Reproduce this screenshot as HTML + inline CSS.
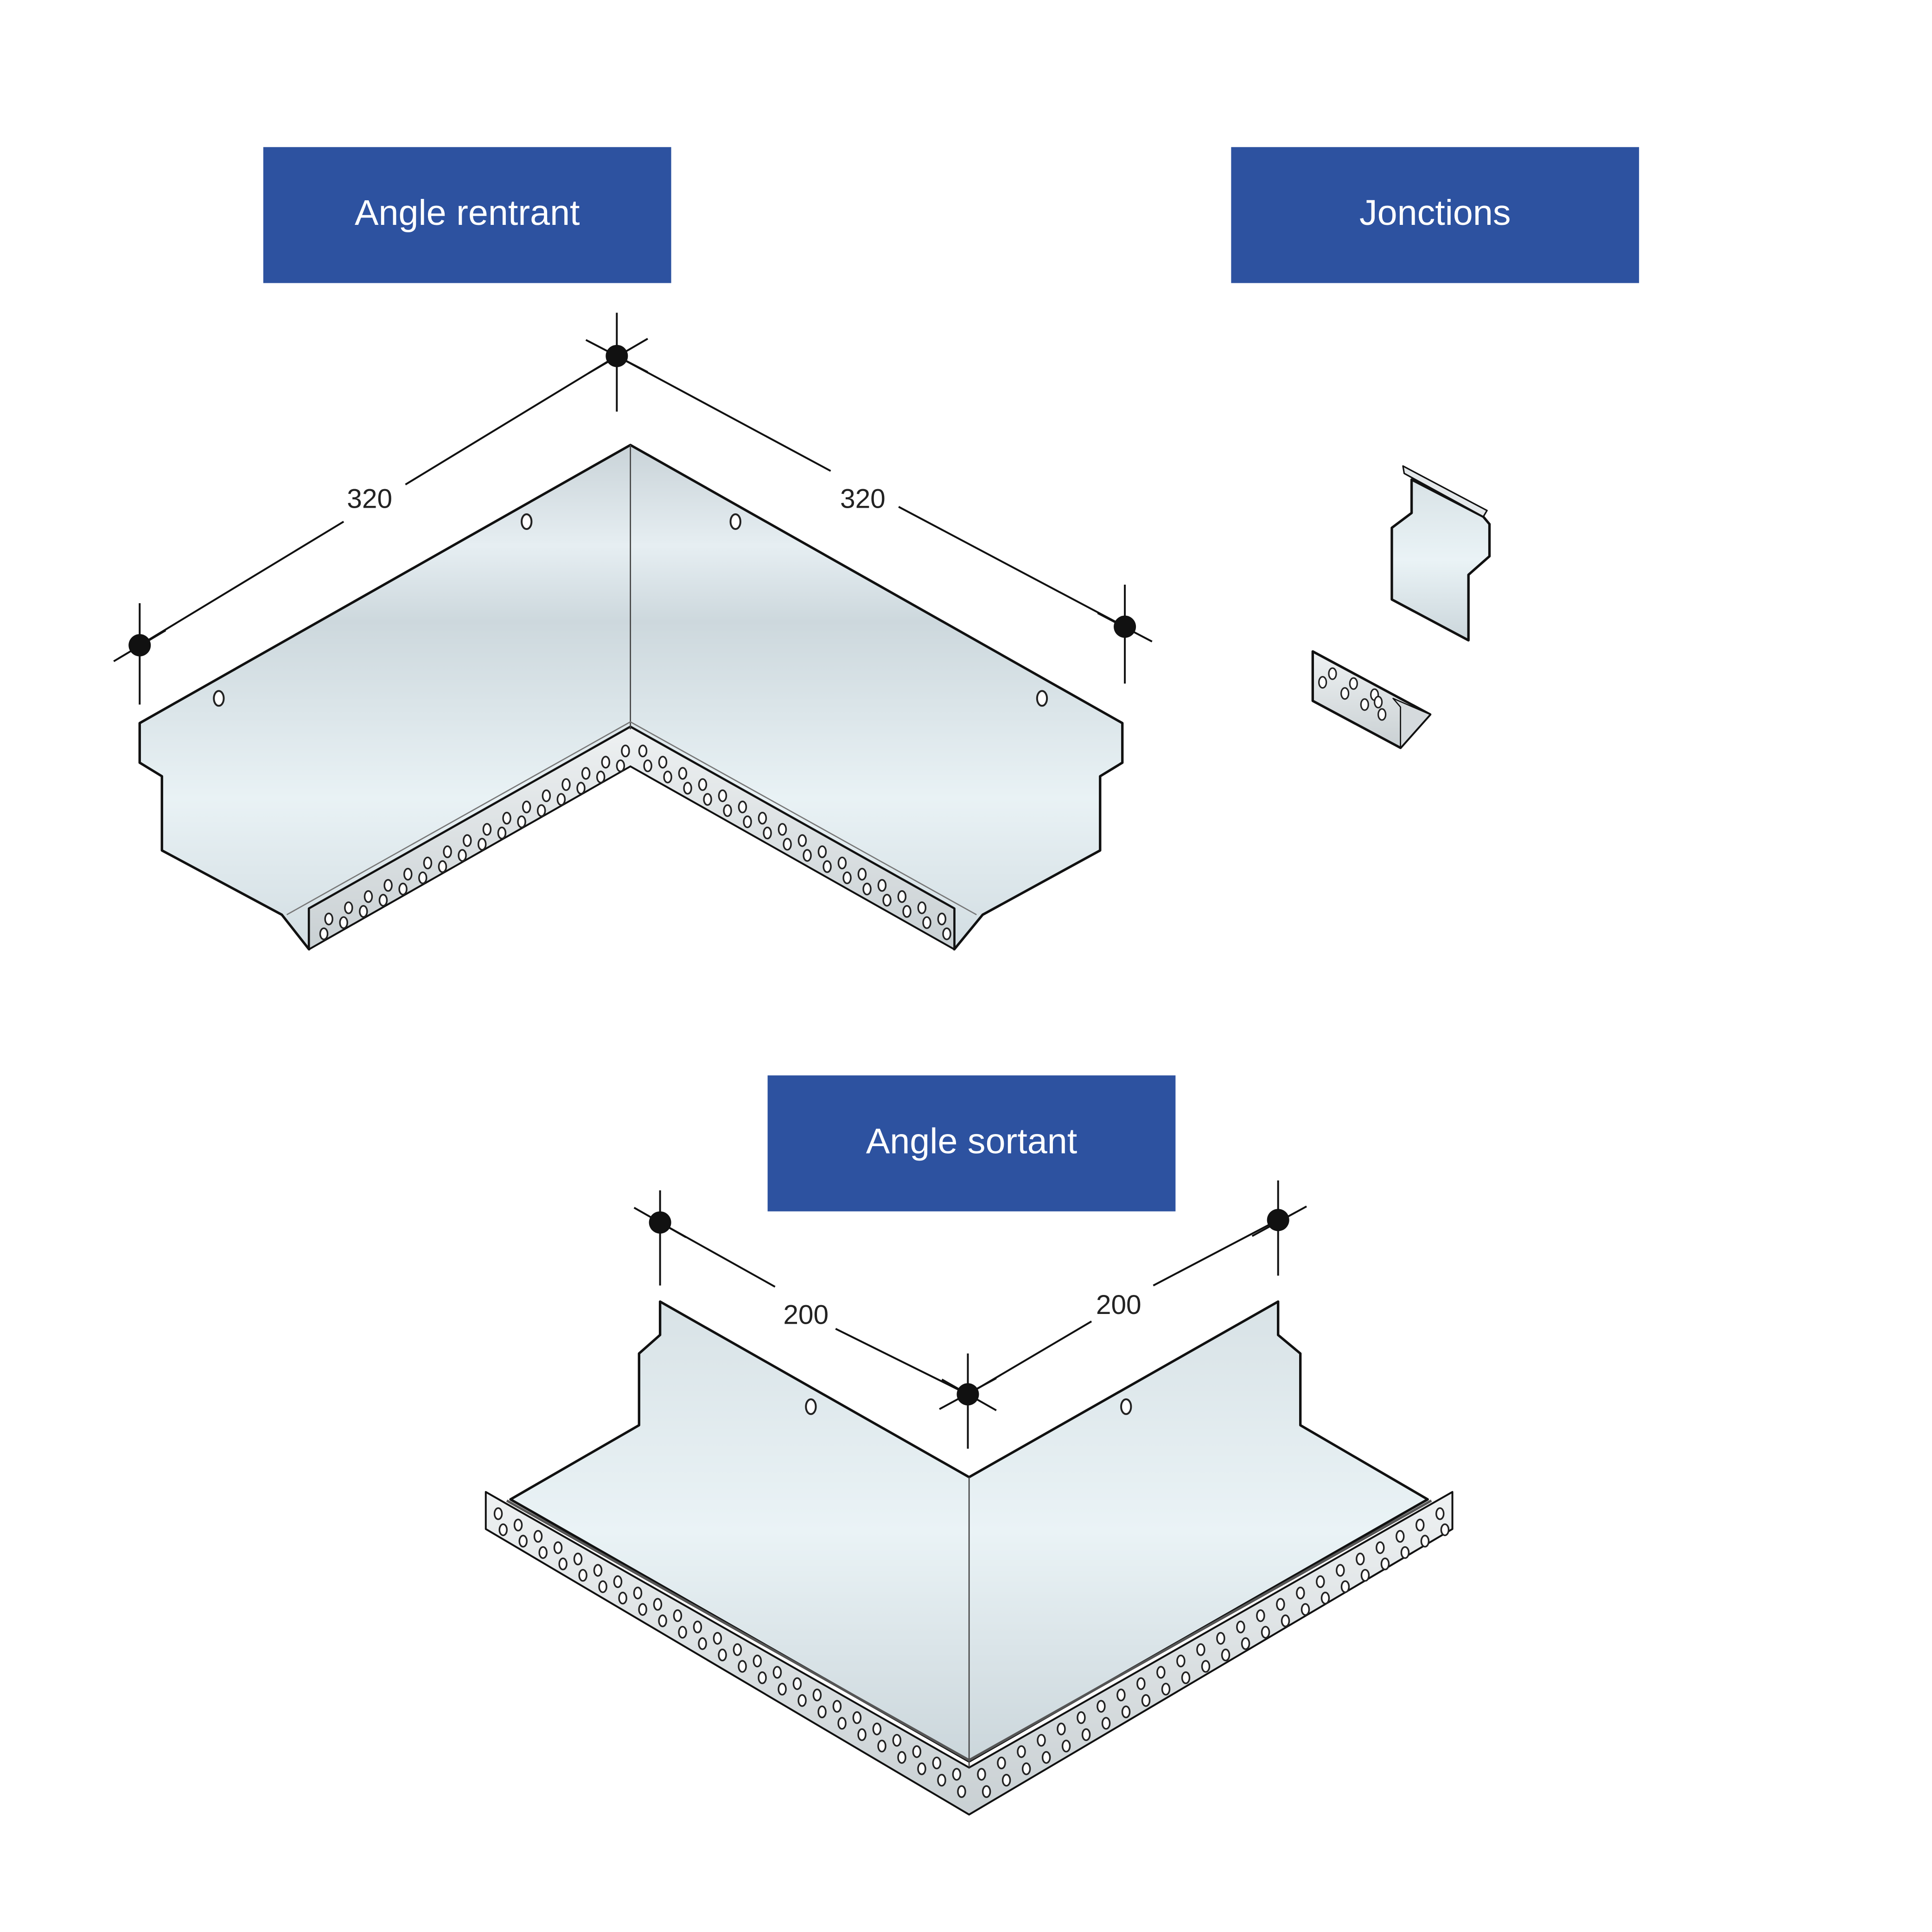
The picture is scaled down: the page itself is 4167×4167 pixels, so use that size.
<!DOCTYPE html>
<html><head><meta charset="utf-8">
<style>
html,body{margin:0;padding:0;background:#fff;}
svg{display:block;}
text{font-family:"Liberation Sans",sans-serif;}
</style></head>
<body>
<svg id="s" width="4167" height="4167" viewBox="0 0 1563 1563" xmlns="http://www.w3.org/2000/svg">
<defs>
<linearGradient id="g1" x1="0" y1="0" x2="0" y2="1">
<stop offset="0" stop-color="#c9d3d8"/><stop offset="0.2" stop-color="#e6eef2"/><stop offset="0.35" stop-color="#cdd8dd"/><stop offset="0.7" stop-color="#e9f2f5"/><stop offset="1" stop-color="#d2dde2"/>
</linearGradient>
<linearGradient id="g2" x1="0" y1="0" x2="0" y2="1">
<stop offset="0" stop-color="#d8e2e6"/><stop offset="0.5" stop-color="#eaf3f6"/><stop offset="1" stop-color="#cbd6db"/>
</linearGradient>
<linearGradient id="g3" x1="0" y1="0" x2="0" y2="1">
<stop offset="0" stop-color="#eef1f2"/><stop offset="1" stop-color="#c9d0d3"/>
</linearGradient>
</defs>

<rect x="213" y="119" width="330" height="110" fill="#2d52a0"/>
<text x="378" y="182" font-size="29" fill="#fff" text-anchor="middle">Angle rentrant</text>
<rect x="996" y="119" width="330" height="110" fill="#2d52a0"/>
<text x="1161" y="182" font-size="29" fill="#fff" text-anchor="middle">Jonctions</text>
<rect x="621" y="870" width="330" height="110" fill="#2d52a0"/>
<text x="786" y="933" font-size="29" fill="#fff" text-anchor="middle">Angle sortant</text>

<g stroke="#111" stroke-width="2" stroke-linejoin="round">
<polygon fill="url(#g1)" points="113,585 510,360 908,585 908,617 890,628 890,688 795,740 772,768 772,735 510,588 250,735 250,768 228,740 131,688 131,628 113,617"/>
<polygon fill="url(#g3)" stroke-width="1.5" points="250,735 510,588 772,735 772,768 510,620 250,768"/>
</g>
<line x1="510" y1="360" x2="510" y2="590" stroke="#444" stroke-width="1"/>
<polyline points="232,740 510,584 790,740" fill="none" stroke="#777" stroke-width="1"/>

<g stroke="#111" stroke-width="1.5">
<line x1="113" y1="522" x2="278" y2="422"/><line x1="328" y1="392" x2="499" y2="288"/>
<line x1="499" y1="288" x2="672" y2="381"/><line x1="727" y1="410" x2="910" y2="507"/>
<line x1="113" y1="488" x2="113" y2="570"/><line x1="92" y1="535" x2="134" y2="510"/>
<line x1="499" y1="253" x2="499" y2="333"/><line x1="474" y1="275" x2="524" y2="301"/><line x1="476" y1="302" x2="524" y2="274"/>
<line x1="910" y1="473" x2="910" y2="553"/><line x1="888" y1="496" x2="932" y2="519"/>
</g>
<text x="299" y="411" font-size="22" text-anchor="middle" fill="#222">320</text>
<text x="698" y="411" font-size="22" text-anchor="middle" fill="#222">320</text>

<g stroke="#111" stroke-width="2" stroke-linejoin="round">
<polygon fill="url(#g2)" points="1142,388 1200,418 1205,424 1205,450 1188,465 1188,518 1126,485 1126,427 1142,415"/>
<polygon fill="#e4e8ea" stroke-width="1.2" points="1135,377 1203,413 1200,418 1136,383"/>
<polygon fill="url(#g3)" points="1062,527 1157,578 1133,605 1062,567"/>
<polygon fill="#d5dadd" stroke-width="1" points="1127,565 1157,578 1133,605 1133,572"/>
</g>
<g fill="#fff" stroke="#222" stroke-width="1.2">
<ellipse cx="1070" cy="552" rx="3" ry="4.5"/><ellipse cx="1078" cy="545" rx="3" ry="4.5"/><ellipse cx="1088" cy="561" rx="3" ry="4.5"/><ellipse cx="1095" cy="553" rx="3" ry="4.5"/>
<ellipse cx="1104" cy="570" rx="3" ry="4.5"/><ellipse cx="1112" cy="562" rx="3" ry="4.5"/><ellipse cx="1118" cy="578" rx="3" ry="4.5"/><ellipse cx="1115" cy="568" rx="3" ry="4.5"/>
</g>

<g stroke="#111" stroke-width="2" stroke-linejoin="round">
<polygon fill="url(#g2)" points="534,1053 784,1195 1034,1053 1034,1080 1052,1095 1052,1153 1155,1213 784,1425 413,1213 517,1153 517,1095 534,1080"/>
<polygon fill="url(#g3)" stroke-width="1.5" points="393,1207 784,1430 1175,1207 1175,1237 784,1468 393,1237"/>
</g>
<line x1="784" y1="1195" x2="784" y2="1430" stroke="#444" stroke-width="1"/>
<polyline points="410,1214 784,1424 1158,1214" fill="none" stroke="#555" stroke-width="2"/>
<g stroke="#111" stroke-width="1.5">
<line x1="534" y1="989" x2="627" y2="1041"/><line x1="676" y1="1075" x2="783" y2="1128"/>
<line x1="783" y1="1128" x2="883" y2="1069"/><line x1="933" y1="1040" x2="1034" y2="987"/>
<line x1="534" y1="963" x2="534" y2="1040"/><line x1="513" y1="977" x2="555" y2="1001"/>
<line x1="783" y1="1095" x2="783" y2="1172"/><line x1="760" y1="1140" x2="806" y2="1115"/><line x1="762" y1="1116" x2="806" y2="1141"/>
<line x1="1034" y1="955" x2="1034" y2="1032"/><line x1="1013" y1="1000" x2="1057" y2="976"/>
</g>
<text x="652" y="1071" font-size="22" text-anchor="middle" fill="#222">200</text>
<text x="905" y="1063" font-size="22" text-anchor="middle" fill="#222">200</text>

<g fill="#111"><circle cx="113" cy="522" r="9"/><circle cx="499" cy="288" r="9"/><circle cx="910" cy="507" r="9"/>
<circle cx="534" cy="989" r="9"/><circle cx="783" cy="1128" r="9"/><circle cx="1034" cy="987" r="9"/></g>
<g fill="#fff" stroke="#222" stroke-width="1.5">
<ellipse cx="177" cy="565" rx="4" ry="6"/><ellipse cx="426" cy="422" rx="4" ry="6"/>
<ellipse cx="595" cy="422" rx="4" ry="6"/><ellipse cx="843" cy="565" rx="4" ry="6"/>
<ellipse cx="656" cy="1138" rx="4" ry="6"/><ellipse cx="911" cy="1138" rx="4" ry="6"/>
</g>
<g id="holes" fill="#fff" stroke="#222" stroke-width="1.3"></g>
</svg>
<script>
(function(){
var g=document.getElementById('holes'),ns='http://www.w3.org/2000/svg';
function row(x1,y1,x2,y2,n,off){for(var i=0;i<n;i++){var t=(i+0.5)/n;var e=document.createElementNS(ns,'ellipse');
e.setAttribute('cx',x1+(x2-x1)*t+off[0]);e.setAttribute('cy',y1+(y2-y1)*t+off[1]);e.setAttribute('rx',3);e.setAttribute('ry',4.5);g.appendChild(e);}}
row(252,748,508,603,16,[6,0]);row(252,758,508,613,16,[2,2]);
row(512,603,770,748,16,[0,0]);row(512,613,770,758,16,[4,2]);
row(395,1220,782,1440,24,[0,0]);row(395,1231,782,1452,24,[4,2]);
row(786,1440,1173,1220,24,[0,0]);row(786,1452,1173,1231,24,[4,2]);
})();
</script>
</body></html>
